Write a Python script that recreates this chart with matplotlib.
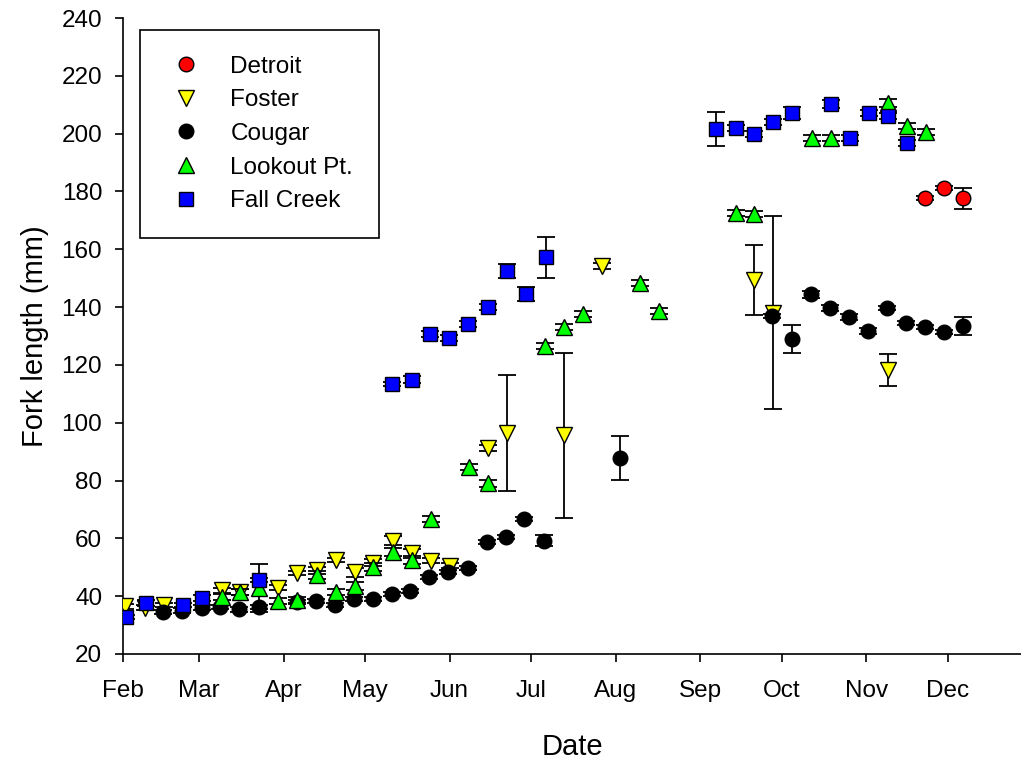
import numpy as np
import matplotlib
matplotlib.use('Agg')
import matplotlib.pyplot as plt

plt.rcParams['font.family'] = ['Liberation Sans', 'DejaVu Sans']

# day of year for the sampling dates, fork length (mm) and error
detroit_day = [326.6, 333.6, 340.6]
detroit_len = [177.7, 181.2, 177.6]
detroit_err = [0.8, 0.8, 3.6]

foster_day = [32.7, 40.1, 47.1, 68.4, 75.0, 88.9, 95.9, 103.3, 110.3, 117.2, 123.8,
              131.2, 138.2, 145.2, 152.1, 166.1, 173.1, 194.0, 208.0, 263.8, 270.8, 313.1]
foster_len = [36.5, 36, 37, 42, 41.5, 43, 48, 49, 52.5, 48.3, 51.5,
              59.2, 54.8, 52.3, 50.6, 91.3, 96.4, 95.7, 154.3, 149.4, 138, 118.2]
foster_err = [0.8, 0.8, 0.8, 1.0, 1.0, 1.0, 0.8, 1.2, 0.8, 1.5, 1.2,
              1.5, 1.5, 0.8, 1.0, 1.0, 20.0, 28.5, 1.0, 12.2, 33.4, 5.5]

cougar_day = [46.7, 53.7, 61.0, 67.6, 74.6, 82.0, 95.9, 102.9, 109.9, 116.9, 123.8,
              130.8, 137.4, 144.4, 151.4, 158.7, 165.7, 172.7, 179.3, 186.7, 214.6,
              270.4, 277.8, 284.8, 291.7, 298.7, 305.7, 312.7, 319.7, 326.6, 333.6, 340.6]
cougar_len = [34.5, 35, 36, 36.3, 35.5, 36.2, 38, 38.3, 36.9, 39, 39,
              40.7, 41.8, 46.6, 48.4, 49.7, 58.7, 60.5, 66.7, 59.2, 87.8,
              136.9, 129, 144.5, 139.7, 136.6, 131.7, 139.7, 134.5, 133.1, 131.4, 133.5]
cougar_err = [0.8, 0.8, 0.8, 0.8, 0.8, 0.8, 0.8, 0.8, 0.8, 0.8, 0.8,
              0.8, 0.8, 0.8, 0.8, 0.8, 0.8, 0.8, 0.8, 2.0, 7.5,
              0.8, 4.8, 1.2, 1.0, 1.0, 1.0, 0.8, 0.8, 0.8, 0.8, 3.2]

lookout_day = [68.4, 75.0, 82.0, 88.9, 95.9, 103.3, 110.3, 117.2, 123.8, 131.2, 138.2,
               145.2, 159.1, 166.1, 187.0, 194.0, 201.0, 221.9, 228.9, 257.2, 263.8,
               285.1, 292.1, 313.1, 320.0, 327.0]
lookout_len = [39.8, 41.4, 42.8, 38.3, 38.7, 47.3, 41.4, 43.5, 50.1, 55.3, 52.5,
               66.7, 84.7, 79.1, 126.5, 133.1, 137.6, 148.3, 138.6, 172.5, 172.2,
               198.5, 198.5, 210.6, 202.6, 200.6]
lookout_err = [1.0, 1.0, 8.3, 1.0, 1.0, 1.5, 1.0, 1.5, 1.5, 1.5, 1.5,
               1.0, 1.0, 1.2, 1.0, 1.0, 1.0, 1.0, 1.0, 1.0, 1.0,
               1.0, 1.0, 1.5, 1.0, 1.0]

fallcreek_day = [33.1, 40.4, 54.0, 61.0, 82.0, 130.8, 138.2, 144.8, 151.8, 158.7, 166.1,
                 173.1, 180.1, 187.4, 249.9, 257.2, 263.8, 270.8, 277.8, 292.1, 299.1,
                 306.1, 313.1, 320.0]
fallcreek_len = [32.8, 37.6, 36.9, 39.4, 45.6, 113.4, 114.8, 130.7, 129.3, 134.1, 140,
                 152.5, 144.5, 157.3, 201.6, 202, 199.9, 204, 207.1, 210.3, 198.5,
                 207.1, 206.1, 196.8]
fallcreek_err = [0.8, 1.0, 0.8, 1.0, 0.8, 0.8, 1.2, 1.2, 1.2, 1.0, 1.0,
                 2.5, 2.5, 7.1, 5.9, 1.0, 1.0, 1.0, 2.0, 1.5, 1.0,
                 1.0, 1.0, 1.0]

month_days = [32, 60, 91, 121, 152, 182, 213, 244, 274, 305, 335]
month_labels = ['Feb', 'Mar', 'Apr', 'May', 'Jun', 'Jul', 'Aug', 'Sep', 'Oct', 'Nov', 'Dec']

series = [
    ('Detroit', detroit_day, detroit_len, detroit_err, 'o', '#ff0000', 10.5),
    ('Foster', foster_day, foster_len, foster_err, 'v', '#ffff00', 11),
    ('Cougar', cougar_day, cougar_len, cougar_err, 'o', 'black', 10.5),
    ('Lookout Pt.', lookout_day, lookout_len, lookout_err, '^', '#00ff00', 11),
    ('Fall Creek', fallcreek_day, fallcreek_len, fallcreek_err, 's', '#0000ff', 10),
]

fig = plt.figure(figsize=(10.21, 7.59), dpi=100)
ax = fig.add_axes([123 / 1021, 105 / 759, 898 / 1021, 636 / 759])

for i, (name, d, v, e, mk, col, ms) in enumerate(series):
    ax.errorbar(d, v, yerr=e, fmt='none', ecolor='black', elinewidth=1.3,
                capsize=6.5, capthick=1.3, zorder=2 + i * 2)
    ax.plot(d, v, linestyle='none', marker=mk, markersize=ms, markerfacecolor=col,
            markeredgecolor='black', markeredgewidth=1.0, label=name, zorder=3 + i * 2)

ax.set_xlim(32, 361.9)
ax.set_ylim(20, 240)
ax.set_xticks(month_days)
ax.set_xticklabels(month_labels)
ax.set_yticks(np.arange(20, 241, 20))
ax.spines['top'].set_visible(False)
ax.spines['right'].set_visible(False)
for s in ['left', 'bottom']:
    ax.spines[s].set_linewidth(1.2)
ax.tick_params(axis='both', direction='out', length=6, width=1.2, labelsize=17.5)
ax.tick_params(axis='x', pad=13)
ax.tick_params(axis='y', pad=9)

ax.set_xlabel('Date', fontsize=21, labelpad=22)
ax.set_ylabel('Fork length (mm)', fontsize=21, labelpad=9)

leg = ax.legend(loc='upper left', bbox_to_anchor=(140 / 1021, 1 - 30 / 759),
                bbox_transform=fig.transFigure, numpoints=1, fontsize=17.5,
                frameon=True, fancybox=False, edgecolor='black', framealpha=1,
                borderpad=1.05, labelspacing=0.48, handletextpad=0.97,
                borderaxespad=0, handlelength=1.7)
leg.get_frame().set_linewidth(1.2)

fig.savefig('out.png', dpi=100)
